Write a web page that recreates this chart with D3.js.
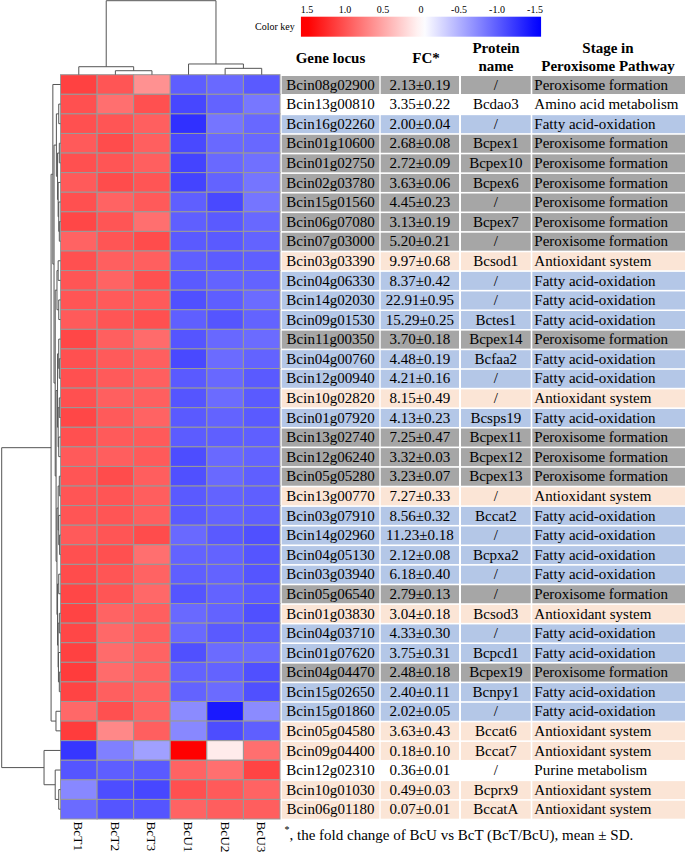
<!DOCTYPE html>
<html>
<head>
<meta charset="utf-8">
<script src="https://cdn.jsdelivr.net/npm/d3@7"></script>
<style>
  body { margin: 0; background: #fff; }
  svg { display: block; font-family: "Liberation Serif", "Times New Roman", serif; }
</style>
</head>
<body>
<svg class="target"></svg>
<script>
// samples (heatmap columns)
const sampleNames = ["BcT1", "BcT2", "BcT3", "BcU1", "BcU2", "BcU3"];

// table columns
const geneLocus = ["Bcin08g02900", "Bcin13g00810", "Bcin16g02260", "Bcin01g10600", "Bcin01g02750",
  "Bcin02g03780", "Bcin15g01560", "Bcin06g07080", "Bcin07g03000", "Bcin03g03390", "Bcin04g06330",
  "Bcin14g02030", "Bcin09g01530", "Bcin11g00350", "Bcin04g00760", "Bcin12g00940", "Bcin10g02820",
  "Bcin01g07920", "Bcin13g02740", "Bcin12g06240", "Bcin05g05280", "Bcin13g00770", "Bcin03g07910",
  "Bcin14g02960", "Bcin04g05130", "Bcin03g03940", "Bcin05g06540", "Bcin01g03830", "Bcin04g03710",
  "Bcin01g07620", "Bcin04g04470", "Bcin15g02650", "Bcin15g01860", "Bcin05g04580", "Bcin09g04400",
  "Bcin12g02310", "Bcin10g01030", "Bcin06g01180"];
const fcMean = [2.13, 3.35, 2.00, 2.68, 2.72, 3.63, 4.45, 3.13, 5.20, 9.97, 8.37, 22.91, 15.29, 3.70,
  4.48, 4.21, 8.15, 4.13, 7.25, 3.32, 3.23, 7.27, 8.56, 11.23, 2.12, 6.18, 2.79, 3.04, 4.33, 3.75,
  2.48, 2.40, 2.02, 3.63, 0.18, 0.36, 0.49, 0.07];
const fcSD = [0.19, 0.22, 0.04, 0.08, 0.09, 0.06, 0.23, 0.19, 0.21, 0.68, 0.42, 0.95, 0.25, 0.18,
  0.19, 0.16, 0.49, 0.23, 0.47, 0.03, 0.07, 0.33, 0.32, 0.18, 0.08, 0.40, 0.13, 0.18, 0.30, 0.31,
  0.18, 0.11, 0.05, 0.43, 0.10, 0.01, 0.03, 0.01];
const proteinName = ["/", "Bcdao3", "/", "Bcpex1", "Bcpex10", "Bcpex6", "/", "Bcpex7", "/", "Bcsod1",
  "/", "/", "Bctes1", "Bcpex14", "Bcfaa2", "/", "/", "Bcsps19", "Bcpex11", "Bcpex12", "Bcpex13", "/",
  "Bccat2", "/", "Bcpxa2", "/", "/", "Bcsod3", "/", "Bcpcd1", "Bcpex19", "Bcnpy1", "/", "Bccat6",
  "Bccat7", "/", "Bcprx9", "BccatA"];
const PF = "Peroxisome formation", FA = "Fatty acid-oxidation", AO = "Antioxidant system";
const stage = [PF, "Amino acid metabolism", FA, PF, PF, PF, PF, PF, PF, AO, FA, FA, FA, PF, FA, FA, AO,
  FA, PF, PF, PF, AO, FA, FA, FA, FA, PF, AO, FA, FA, PF, FA, FA, AO, AO, "Purine metabolism", AO, AO];

// scaled expression, one array per sample
const bcT1 = [1.12, 1.03, 1.03, 0.97, 1.03, 0.97, 1.03, 1.08, 0.92, 1.03, 1.0, 1.0, 0.97, 1.08, 1.03,
  1.03, 1.03, 1.08, 1.03, 0.97, 1.0, 1.0, 1.0, 0.97, 1.03, 1.05, 1.08, 1.1, 1.08, 1.12, 1.15, 1.1, 0.89,
  1.15, -1.18, -1.0, -0.7, -0.87];
const bcT2 = [1.0, 0.85, 1.0, 1.05, 1.0, 1.05, 0.92, 1.0, 1.0, 0.94, 0.92, 0.97, 1.0, 0.94, 0.97, 0.97,
  0.94, 0.97, 0.97, 0.95, 1.05, 1.0, 1.0, 1.0, 1.03, 1.0, 1.0, 0.92, 0.89, 0.87, 0.87, 0.94, 1.03, 0.7,
  -0.75, -0.95, -1.05, -1.0];
const bcT3 = [0.65, 1.03, 0.94, 0.94, 0.94, 1.0, 0.97, 0.85, 1.05, 0.94, 1.03, 0.97, 1.03, 0.87, 0.94,
  0.94, 0.94, 0.92, 0.97, 0.97, 0.95, 0.95, 0.95, 1.05, 0.85, 0.92, 0.89, 0.94, 0.94, 0.92, 0.92, 0.92,
  0.92, 0.94, -0.56, -0.97, -1.08, -1.0];
const bcU1 = [-0.95, -1.08, -1.22, -1.07, -1.1, -1.1, -0.94, -0.94, -0.97, -0.94, -0.97, -1.03, -0.94,
  -1.0, -1.07, -0.97, -1.0, -0.97, -0.96, -1.05, -1.03, -0.97, -0.97, -0.88, -0.92, -0.94, -1.0, -0.88,
  -0.88, -1.03, -0.92, -0.92, -0.68, -0.7, 1.5, 0.92, 1.03, 0.92];
const bcU2 = [-0.88, -0.92, -0.81, -0.88, -0.88, -0.92, -1.07, -0.97, -0.97, -0.96, -0.92, -0.95, -1.0,
  -0.89, -0.87, -0.89, -0.87, -0.92, -0.94, -0.88, -0.88, -0.92, -0.92, -0.97, -0.92, -0.92, -0.92,
  -0.92, -0.97, -0.87, -0.92, -0.87, -1.35, -1.05, 0.12, 0.85, 0.97, 0.95];
const bcU3 = [-0.97, -0.8, -0.89, -0.89, -0.84, -0.81, -0.81, -0.89, -0.92, -0.94, -0.92, -0.87, -0.92,
  -0.87, -0.92, -0.97, -0.97, -0.97, -0.94, -0.92, -0.94, -0.94, -0.95, -1.03, -1.0, -1.0, -0.97, -1.03,
  -0.97, -0.87, -1.03, -1.03, -0.68, -0.94, 0.85, 1.1, 0.92, 0.95];

// dendrograms: [height, left, right], leaves are indices
const colTree = [1.0, [0.108, 0, [0.054, 1, 2]], [0.145, 3, [0.086, 4, 5]]];
const rowTree = [1.0,
  [0.16,
    [0.13, 0,
      [0.11,
        [0.07, [0.03, 1, 2], [0.05, [0.02, 3, 4], [0.04, 5, [0.03, 6, [0.02, 7, 8]]]]],
        [0.09,
          [0.06, [0.04, 9, 10], [0.03, 11, 12]],
          [0.075,
            [0.05, [0.03, 13, [0.02, 14, 15]], [0.04, [0.02, 16, 17], [0.03, 18, 19]]],
            [0.06, [0.04, [0.02, 20, 21], [0.03, 22, [0.015, 23, 24]]],
              [0.05, [0.03, 25, 26], [0.04, [0.02, 27, 28], [0.035, 29, [0.02, 30, 31]]]]]]]]],
    [0.077, 32, 33]],
  [0.28, 34, [0.09, 35, [0.03, 36, 37]]]];

const keyTicks = [1.5, 1.0, 0.5, 0, -0.5, -1.0, -1.5];

const stageColor = {
  "Peroxisome formation": "#a6a6a6",
  "Fatty acid-oxidation": "#b4c7e7",
  "Antioxidant system": "#fbe5d6",
  "Amino acid metabolism": "#ffffff",
  "Purine metabolism": "#ffffff"
};

document.addEventListener("DOMContentLoaded", function() {
  drawChart();
});

function drawChart() {
  const width = 685;
  const height = 853;
  const svg = d3.select(".target")
    .attr("width", width)
    .attr("height", height)
    .attr("viewBox", [0, 0, width, height]);

  const samples = [bcT1, bcT2, bcT3, bcU1, bcU2, bcU3];
  const nRow = geneLocus.length;

  const x = d3.scaleBand().domain(d3.range(sampleNames.length)).range([60.5, 280]);
  const y = d3.scaleBand().domain(d3.range(nRow)).range([74.7, 819]);
  const color = d3.scaleLinear().domain([-1.5, 0, 1.5]).range(["#0000ff", "#ffffff", "#ff0000"]);

  // heatmap cells
  const cells = [];
  samples.forEach(function(vals, j) {
    vals.forEach(function(v, i) { cells.push({ i: i, j: j, v: v }); });
  });
  svg.append("g").selectAll("rect")
    .data(cells)
    .enter()
    .append("rect")
    .attr("x", d => x(d.j))
    .attr("y", d => y(d.i))
    .attr("width", x.bandwidth())
    .attr("height", y.bandwidth())
    .attr("fill", d => color(d.v))
    .attr("stroke", "#999999")
    .attr("stroke-width", 1);

  // sample labels
  svg.append("g").selectAll("text")
    .data(sampleNames)
    .enter()
    .append("text")
    .attr("transform", (d, j) => "translate(" + (x(j) + x.bandwidth() / 2) + ",821.5) rotate(90)")
    .attr("dominant-baseline", "central")
    .attr("font-size", 13.3)
    .text(d => d);

  // dendrograms
  function dendro(tree, leafPos, hScale, vertical) {
    const segs = [];
    function walk(node) {
      if (typeof node === "number") return { h: 0, p: leafPos(node) };
      const a = walk(node[1]), b = walk(node[2]);
      const h = hScale(node[0]);
      segs.push([h, a.p, h, b.p]);
      segs.push([h, a.p, hScale(a.h), a.p]);
      segs.push([h, b.p, hScale(b.h), b.p]);
      return { h: node[0], p: (a.p + b.p) / 2 };
    }
    walk(tree);
    const g = svg.append("g")
      .attr("stroke", "#555")
      .attr("stroke-width", 1)
      .attr("fill", "none");
    g.selectAll("line")
      .data(segs)
      .enter()
      .append("line")
      .attr("x1", d => vertical ? d[1] : d[0])
      .attr("y1", d => vertical ? d[0] : d[1])
      .attr("x2", d => vertical ? d[3] : d[2])
      .attr("y2", d => vertical ? d[2] : d[3]);
  }
  const rowH = d3.scaleLinear().domain([0, 1]).range([60.5, 1.7]);
  dendro(rowTree, i => y(i) + y.bandwidth() / 2, rowH, false);
  const colH = d3.scaleLinear().domain([0, 1]).range([74.7, 0.7]);
  dendro(colTree, j => x(j) + x.bandwidth() / 2, colH, true);

  // color key
  const keyX = d3.scaleLinear().domain([1.5, -1.5]).range([307, 535]);
  const grad = svg.append("defs").append("linearGradient")
    .attr("id", "keygrad");
  d3.range(1.58, -1.6, -0.1).forEach(function(v, k, arr) {
    grad.append("stop")
      .attr("offset", (k / (arr.length - 1) * 100) + "%")
      .attr("stop-color", color(Math.max(-1.5, Math.min(1.5, v))));
  });
  svg.append("rect")
    .attr("x", keyX(1.58))
    .attr("y", 16.7)
    .attr("width", keyX(-1.58) - keyX(1.58))
    .attr("height", 20)
    .attr("fill", "url(#keygrad)");
  svg.append("g").selectAll("text")
    .data(keyTicks)
    .enter()
    .append("text")
    .attr("x", d => keyX(d))
    .attr("y", 13)
    .attr("text-anchor", "middle")
    .attr("font-size", 10)
    .text(d => d === 0 ? "0" : d.toFixed(1));
  svg.append("text")
    .attr("x", 255)
    .attr("y", 29.5)
    .attr("font-size", 10)
    .text("Color key");

  // table
  const cols = [
    { x0: 281.7, x1: 379.3, text: i => geneLocus[i], anchor: "middle" },
    { x0: 380.7, x1: 459, text: i => fcMean[i].toFixed(2) + "\u00b1" + fcSD[i].toFixed(2), anchor: "middle" },
    { x0: 461, x1: 530.7, text: i => proteinName[i], anchor: "middle" },
    { x0: 532.3, x1: 685, text: i => stage[i], anchor: "start" }
  ];
  const table = svg.append("g");
  const tcells = [];
  d3.range(nRow).forEach(function(i) {
    cols.forEach(function(c) { tcells.push({ i: i, c: c }); });
  });
  table.selectAll("rect")
    .data(tcells)
    .enter()
    .append("rect")
    .attr("x", d => d.c.x0)
    .attr("y", d => y(d.i) + 1.3)
    .attr("width", d => d.c.x1 - d.c.x0)
    .attr("height", y.bandwidth() - 1.6)
    .attr("fill", d => stageColor[stage[d.i]]);
  table.selectAll("text")
    .data(tcells)
    .enter()
    .append("text")
    .attr("x", d => d.c.anchor === "middle" ? (d.c.x0 + d.c.x1) / 2 : d.c.x0 + 2)
    .attr("y", d => y(d.i) + y.bandwidth() / 2 + 5.2)
    .attr("text-anchor", d => d.c.anchor)
    .attr("font-size", 15)
    .text(d => d.c.text(d.i));

  // header
  const head = svg.append("g")
    .attr("font-size", 15)
    .attr("font-weight", "bold")
    .attr("text-anchor", "middle");
  head.append("text").attr("x", 330.5).attr("y", 62.5).text("Gene locus");
  head.append("text").attr("x", 426).attr("y", 62.5).text("FC*");
  head.append("text").attr("x", 496).attr("y", 53).text("Protein");
  head.append("text").attr("x", 496).attr("y", 71).text("name");
  head.append("text").attr("x", 608).attr("y", 53).text("Stage in");
  head.append("text").attr("x", 608).attr("y", 71).text("Peroxisome Pathway");

  // footnote
  svg.append("text")
    .attr("x", 284.5)
    .attr("y", 833)
    .attr("font-size", 10)
    .text("*");
  svg.append("text")
    .attr("x", 289.5)
    .attr("y", 840)
    .attr("font-size", 15)
    .text(", the fold change of BcU vs BcT (BcT/BcU), mean \u00b1 SD.");
}
</script>
</body>
</html>
